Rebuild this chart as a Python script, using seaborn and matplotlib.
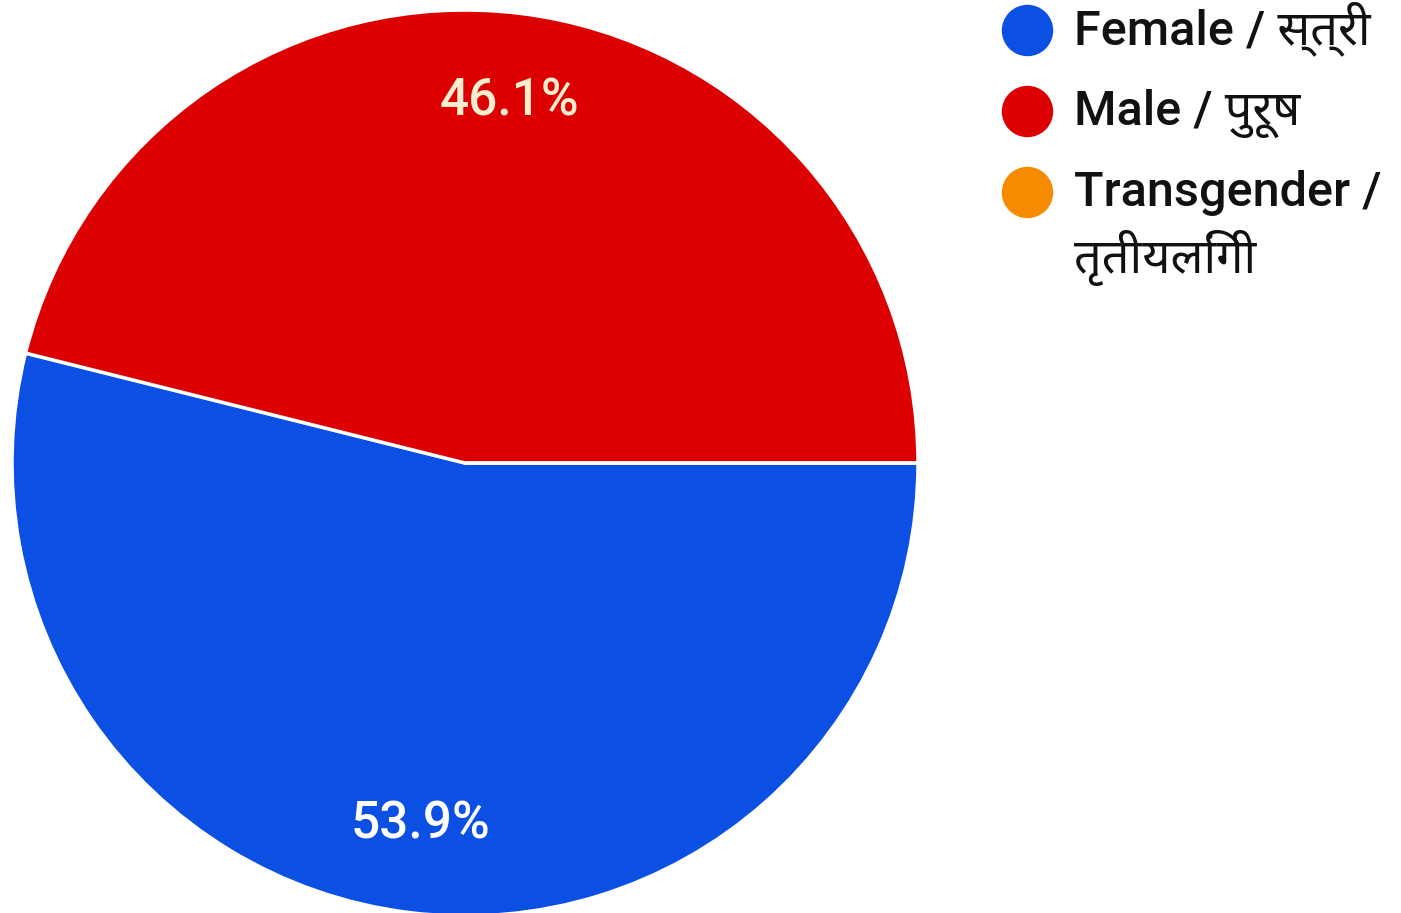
import matplotlib
matplotlib.use("Agg")
import matplotlib.pyplot as plt
import seaborn as sns
from matplotlib.lines import Line2D

categories = ["Female / स्त्री", "Male / पुरूष", "Transgender /\nतृतीयलिंगी"]
values = [53.9, 46.1, 0.0]
colors = ["#0b4fe3", "#dc0000", "#f68b00"]

sns.set_theme(style="white")
plt.rcParams["font.family"] = ["Roboto", "Noto Sans", "DejaVu Sans"]

W, H = 1401, 913
fig = plt.figure(figsize=(W / 100, H / 100), dpi=100)
cx, cy, r = 465, 463, 453
ax = fig.add_axes([(cx - r) / W, (H - cy - r) / H, 2 * r / W, 2 * r / H])

def fmt(p):
    return f"{p:.1f}%" if p > 0.05 else ""

wedges, texts, autotexts = ax.pie(
    values, colors=colors, startangle=0, counterclock=False,
    autopct=fmt, pctdistance=0.805,
    wedgeprops=dict(edgecolor="white", linewidth=2.5),
    textprops=dict(color="white", fontsize=37, fontweight="medium"),
)
autotexts[1].set_color("#fbeed0")
ax.set_xlim(-1, 1)
ax.set_ylim(-1, 1)
ax.set_aspect("equal")
ax.axis("off")

# legend: circle markers and labels (pixel rows from the top)
circle_y = [30, 111, 192]
circle_x = 1027
text_x = 1074
line_gap = 67
for cat, col, y in zip(categories, colors, circle_y):
    fig.add_artist(Line2D([circle_x / W], [1 - y / H], marker="o", linestyle="",
                          markersize=36, markerfacecolor=col, markeredgecolor=col,
                          transform=fig.transFigure))
    for k, line in enumerate(cat.split("\n")):
        fig.text(text_x / W, 1 - (y + 14 + k * line_gap) / H, line,
                 fontsize=35, fontweight="medium", color="#111111",
                 ha="left", va="baseline")

fig.savefig("out.png", dpi=100)
